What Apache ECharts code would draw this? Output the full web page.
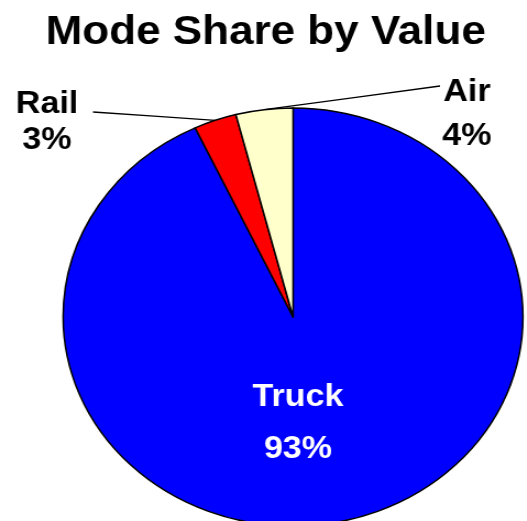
<!DOCTYPE html>
<html>
<head>
<meta charset="utf-8">
<script src="https://cdn.jsdelivr.net/npm/echarts@6/dist/echarts.min.js"></script>
<style>
html,body{margin:0;padding:0;background:#fff;overflow:hidden;}
#wrap{width:527px;height:521px;overflow:hidden;}
#chart{width:479px;height:521px;transform:scaleX(1.1);transform-origin:0 0;}
</style>
</head>
<body>
<div id="wrap"><div id="chart"></div></div>
<script>
const titleText = 'Mode Share by Value';
const categories = ['Truck', 'Rail', 'Air'];
const values = [93, 3, 4];
const sliceColors = ['#0000FF', '#FF0000', '#FFFFCC'];
const labelColors = ['#FFFFFF', '#000000', '#000000'];

const FONT = "'Liberation Sans', Arial, sans-serif";
const labelPos = {
  Truck: { x: 270.9, y: 423, lh: 52 },
  Rail: { x: 42.7, y: 122.5, lh: 36, lineEnd: [84.5, 112] },
  Air: { x: 424.5, y: 114, lh: 44, lineEnd: [400, 86] }
};

const data = categories.map((c, i) => ({
  name: c,
  value: values[i],
  itemStyle: { color: sliceColors[i] },
  label: {
    color: labelColors[i],
    lineHeight: labelPos[c].lh,
    position: i === 0 ? 'inside' : 'outside'
  },
  labelLine: { show: i !== 0 }
}));

const chart = echarts.init(document.getElementById('chart'), null, { renderer: 'canvas' });
chart.setOption({
  animation: false,
  backgroundColor: '#ffffff',
  title: {
    text: titleText,
    left: 41.5,
    top: 13,
    padding: 0,
    textStyle: { fontFamily: FONT, fontWeight: 'bold', fontSize: 40, color: '#000' }
  },
  series: [{
    type: 'pie',
    center: [266.4, 317],
    radius: 209,
    startAngle: 90,
    clockwise: true,
    avoidLabelOverlap: false,
    itemStyle: { borderColor: '#000', borderWidth: 1.5 },
    label: {
      show: true,
      fontFamily: FONT,
      fontWeight: 'bold',
      fontSize: 31,
      align: 'center',
      formatter: p => p.name + '\n' + p.value + '%'
    },
    labelLine: {
      show: true,
      length: 10,
      length2: 10,
      lineStyle: { color: '#000', width: 1.3 }
    },
    labelLayout: function (params) {
      const c = categories[params.dataIndex];
      const p = labelPos[c];
      const out = { x: p.x, y: p.y, align: 'center', verticalAlign: 'middle' };
      if (p.lineEnd && params.labelLinePoints && params.labelLinePoints.length) {
        const a = params.labelLinePoints[0];
        const e = p.lineEnd;
        out.labelLinePoints = [a, [(a[0] + e[0]) / 2, (a[1] + e[1]) / 2], e];
      }
      return out;
    },
    emphasis: { disabled: true },
    data: data
  }]
});
</script>
</body>
</html>
